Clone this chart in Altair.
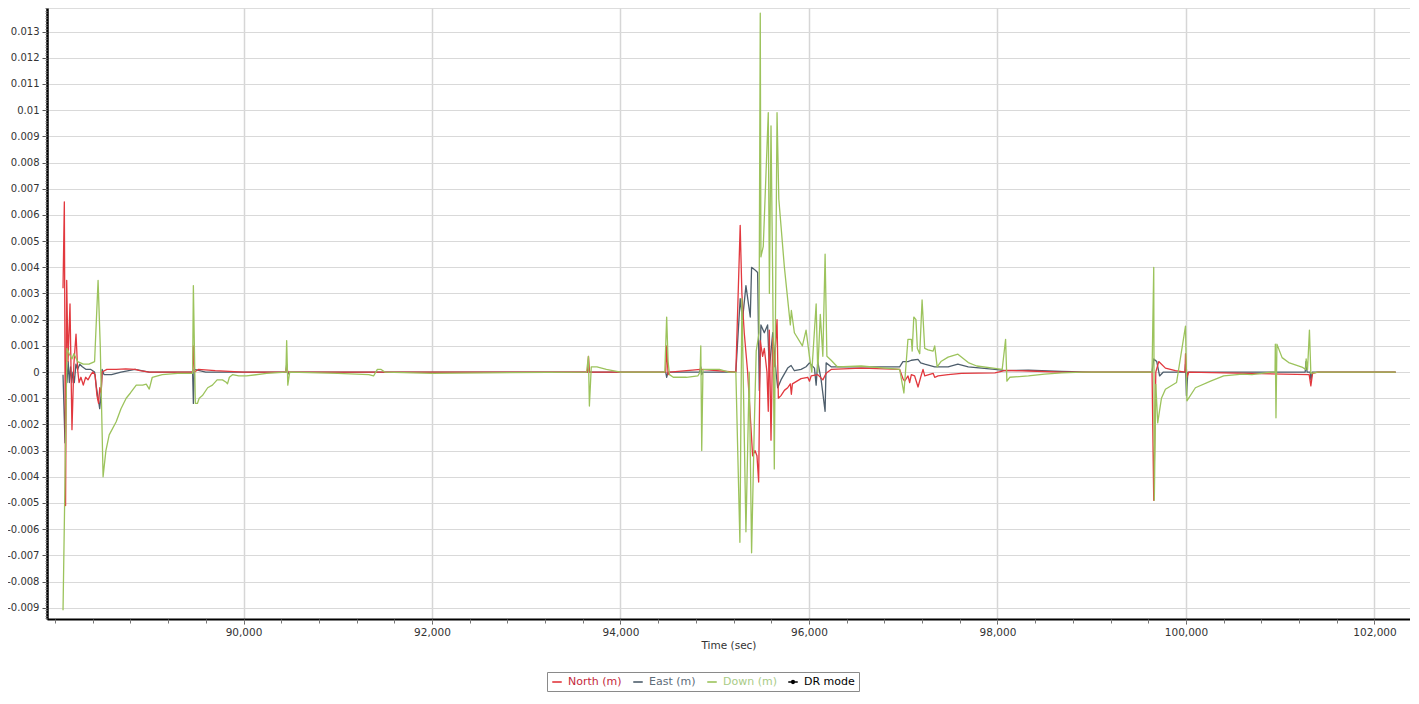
import altair as alt
import pandas as pd

# ---------------- data ----------------
north_t = [88085, 88099, 88112, 88124, 88138, 88159, 88180, 88200, 88223, 88240, 88255, 88275,
           88300, 88325, 88350, 88380, 88400, 88425, 88445, 88462, 88475, 88490, 88500, 88550,
           88650, 88750, 88850, 88900, 89000, 89200, 89460, 89468, 89480, 89520, 89700, 90000,
           90450, 90458, 90470, 91500, 93650, 93660, 93672, 94480, 94490, 94505, 94520, 94852,
           95224, 95270, 95288, 95313, 95349, 95384, 95402, 95427, 95448, 95466, 95483, 95508,
           95526, 95554, 95568, 95579, 95597, 95615, 95632, 95661, 95675, 95703, 95739, 95774,
           95802, 95813, 95824, 95916, 95987, 96005, 96023, 96093, 96147, 96182, 96235, 96554,
           96962, 96997, 97015, 97051, 97068, 97086, 97121, 97157, 97185, 97210, 97228, 97317,
           97334, 97370, 97476, 97618, 97973, 98086, 98328, 98682, 99640, 99658, 99680, 99711,
           99782, 99888, 99990, 99995, 100010, 100030, 101307, 101325, 101343, 101400, 102225]
north_v = [0.0032, 0.0065, -0.0051, 0.0035, 0.0004, 0.0026, -0.0022, 0.0003, 0.00145, 0.0001, -0.0004, -0.0002,
           -0.0005, -0.0002, -0.0003, -0.0001, 0.0, -0.0001, -0.0009, -0.0012, -0.0006, -0.0008, 0.0, 0.0001,
           0.0001, 0.00012, 0.0001, 0.00005, 0.0, 0.0, 0.0, 0.0010, 0.0, 0.0001, 0.00005, 0.0,
           0.0, 0.0002, 0.0, 0.0, 0.0, 0.0006, 0.0, 0.0, 0.0010, -0.0001, 0.0, 0.0001,
           0.0, 0.0056, 0.0030, 0.0015, 0.0, -0.0021, -0.0032, -0.0030, -0.0032, -0.0042, 0.0012, 0.0006,
           0.0009, 0.0, -0.0015, 0.0016, -0.0026, 0.0013, 0.0002, 0.0020, -0.0010, -0.0009, -0.0007, -0.0006,
           -0.00045, -0.00085, -0.00045, -0.00025, -0.0002, -0.00035, -0.00015, -0.0001, -0.0003, -0.00005, 0.0001, 0.00015,
           0.0001, -0.00025, -0.00035, -0.00015, -0.0004, -0.0001, -0.00015, -0.00057, -0.0002, 0.0001, -0.00015, -0.00005,
           -0.0002, -0.00015, -0.0001, -0.00005, -0.00003, 0.00006, 0.00004, 0.0, 0.0, -0.0049, 0.0, 0.0004,
           0.00015, 0.00005, 0.0, 0.0007, -0.0002, 0.0, -0.0001, -0.00053, -0.00005, 0.0, 0.0]

east_t = [88085, 88106, 88117, 88127, 88140, 88152, 88165, 88178, 88190, 88205, 88222, 88240,
          88262, 88290, 88330, 88380, 88420, 88440, 88462, 88474, 88488, 88500, 88520, 88600,
          88700, 88850, 89000, 89200, 89460, 89468, 89478, 89600, 90000, 90450, 90458, 90470,
          90480, 91000, 92000, 93000, 93650, 93660, 93672, 94480, 94490, 94505, 94840, 94852,
          94862, 94875, 95224, 95270, 95295, 95331, 95377, 95391, 95427, 95455, 95473, 95490,
          95526, 95561, 95579, 95615, 95650, 95668, 95703, 95774, 95810, 95845, 95916, 95969,
          96005, 96058, 96076, 96093, 96129, 96171, 96182, 96235, 96500, 96962, 96997, 97051,
          97086, 97157, 97185, 97228, 97334, 97476, 97580, 97690, 97973, 98086, 98328, 98682,
          99000, 99640, 99658, 99690, 99720, 99760, 99990, 99995, 100005, 100020, 101265, 101273,
          101285, 101318, 101325, 101340, 102225]
east_v = [-0.0001, -0.0027, 0.0001, -0.0004, 0.0004, -0.0004, 0.0002, -0.0004, 0.0, -0.0004, 0.0003, 0.0001,
          0.0003, 0.0002, 0.0001, 0.0001, 0.0, -0.0006, -0.0011, -0.0014, -0.0009, 0.0001, -0.0001, -0.0001,
          0.0, 0.0001, 0.0, 0.0, 0.0, -0.0012, 0.0001, 0.0, 0.0, 0.0, 0.0003, -0.0001,
          0.0, 0.0, 0.0, 0.0, 0.0, 0.0001, 0.0, 0.0, -0.0002, 0.0, 0.0, 0.0002,
          -0.0001, 0.0, 0.0, 0.0028, 0.0020, 0.0033, 0.0021, 0.0040, 0.0039, 0.0038, -0.0007, 0.0018,
          0.0015, 0.0018, 0.0001, 0.0015, 0.0, -0.0006, -0.0003, 0.00015, 0.00025, 0.00005, 0.0001, 0.0002,
          0.00035, 0.00015, -0.0005, 0.0004, -0.0003, -0.0015, 0.00035, 0.0002, 0.0002, 0.0002, 0.0004, 0.0004,
          0.00045, 0.00048, 0.00035, 0.0003, 0.0002, 0.0002, 0.0003, 0.0002, 0.0001, 0.00005, 0.00007, 0.00002,
          0.0, 0.0, 0.0005, 0.0004, -0.00015, 0.0, 0.0, 0.0003, -0.0009, 0.0, 0.0, 0.0004,
          0.0, 0.0, -0.0003, 0.0, 0.0]

down_t = [88085, 88127, 88150, 88180, 88200, 88240, 88300, 88360, 88420, 88457, 88480, 88510,
          88540, 88575, 88649, 88700, 88755, 88800, 88862, 88930, 88968, 89000, 89032, 89138,
          89300, 89460, 89468, 89489, 89511, 89530, 89564, 89620, 89670, 89720, 89777, 89820,
          89830, 89850, 89883, 89950, 90032, 90245, 90450, 90458, 90470, 90490, 91000, 91330,
          91380, 91420, 91460, 91500, 92000, 93640, 93660, 93670, 93690, 93750, 93850, 94000,
          94470, 94490, 94505, 94520, 94560, 94700, 94820, 94845, 94852, 94862, 94875, 94950,
          95050, 95150, 95224, 95267, 95288, 95331, 95366, 95391, 95420, 95440, 95470, 95483,
          95490, 95515, 95568, 95580, 95597, 95615, 95632, 95661, 95680, 95739, 95802, 95813,
          95845, 95930, 95969, 96005, 96030, 96076, 96093, 96120, 96147, 96171, 96190, 96235,
          96300, 96554, 96962, 97007, 97050, 97086, 97095, 97112, 97135, 97150, 97175, 97200,
          97228, 97264, 97317, 97334, 97360, 97400, 97476, 97580, 97690, 97780, 97973, 98050,
          98086, 98100, 98130, 98328, 98500, 98682, 98900, 99640, 99658, 99664, 99680, 99700,
          99740, 99782, 99900, 99995, 100010, 100100, 100261, 100400, 100600, 100700, 100900, 100945,
          100948, 100955, 100965, 101020, 101090, 101230, 101270, 101275, 101290, 101310, 101325, 101400,
          102225]
down_v = [-0.0091, 0.0009, 0.0007, 0.0005, 0.0007, 0.0004, 0.0003, 0.0003, 0.0004, 0.0035, 0.0010, -0.0040,
          -0.0030, -0.0024, -0.0019, -0.0014, -0.0010, -0.0008, -0.0005, -0.0005, -0.00046, -0.00065, -0.0002, -0.0001,
          -0.00005, -0.00005, 0.0033, -0.0012, -0.0012, -0.0010, -0.0009, -0.0006, -0.0005, -0.0003, -0.0003, -0.0004,
          -0.00045, -0.0002, -0.0001, -0.00015, -0.00015, -0.00005, 0.0, 0.0012, -0.0005, 0.0, -0.00005, -0.0001,
          -0.00015, 0.0001, 0.0001, 0.0, -0.00005, 0.0, 0.0006, -0.0013, 0.0002, 0.0002, 0.0001, 0.0,
          0.0, 0.0021, 0.0004, -0.0001, -0.0002, -0.0002, -0.00015, 0.0, 0.0010, -0.0030, 0.0001, 0.0001,
          0.0001, 0.0, 0.0, -0.0065, 0.0028, -0.0061, 0.0, -0.0069, -0.0020, 0.0008, 0.0015, 0.0137,
          0.0044, 0.0048, 0.0099, 0.0030, 0.0094, 0.0035, -0.0037, 0.0099, 0.0066, 0.0040, 0.0018, 0.00235,
          0.0015, 0.0010, 0.0016, 0.0006, 0.0, 0.0026, 0.0, 0.0022, 0.0006, 0.0045, 0.0006, 0.00045,
          0.0002, 0.00023, 0.0001, -0.0008, 0.00125, 0.00125, 0.0008, 0.0021, 0.0020, 0.0009, 0.0007, 0.00275,
          0.0009, 0.00085, 0.0008, 0.0010, 0.0002, 0.0004, 0.00057, 0.00068, 0.00036, 0.00023, 0.00014, 0.0001,
          0.00125, -0.00035, -0.0002, -0.00015, -0.00008, -0.00003, 0.0, 0.0, 0.0040, -0.0049, -0.00047, -0.00194,
          -0.0010, -0.00066, -0.0004, 0.00175, -0.0011, -0.0006, -0.00035, -0.00015, -0.00008, -0.0001, 0.0, 0.0,
          0.00106, -0.00175, 0.00106, 0.00055, 0.00036, 0.00019, 0.0001, 0.0005, 0.0001, 0.0016, -0.00005, 0.0,
          0.0]

series_names = ["North (m)", "East (m)", "Down (m)", "DR mode"]
series_colors = ["#e2383e", "#4e5e6c", "#9cc35c", "#000000"]
legend_label_colors = ["#c4283a", "#5d6c78", "#a9cb86", "#000000"]

x_major = [90000, 92000, 94000, 96000, 98000, 100000, 102000]
y_major = [-0.009, -0.008, -0.007, -0.006, -0.005, -0.004, -0.003, -0.002, -0.001, 0.0,
           0.001, 0.002, 0.003, 0.004, 0.005, 0.006, 0.007, 0.008, 0.009, 0.01,
           0.011, 0.012, 0.013]
x_minor = list(range(88000, 102401, 400))
y_minor = [round(-0.0094 + i * 0.0001, 4) for i in range(234)]

X_DOMAIN = [87915, 102377]
Y_DOMAIN = [-0.00943, 0.0139]

rows = []
for name, ts, vs in [("North (m)", north_t, north_v),
                     ("East (m)", east_t, east_v),
                     ("Down (m)", down_t, down_v)]:
    for t, v in zip(ts, vs):
        rows.append({"t": t, "v": v, "series": name})
df = pd.DataFrame(rows)

FONT = "DejaVu Sans"

xs = alt.Scale(domain=X_DOMAIN, nice=False, zero=False)
ys = alt.Scale(domain=Y_DOMAIN, nice=False, zero=False)
cs = alt.Scale(domain=series_names, range=series_colors)

label_color_expr = " : ".join(
    f"datum.label == '{n}' ? '{c}'" for n, c in zip(series_names[:-1], legend_label_colors[:-1])
) + f" : '{legend_label_colors[-1]}'"

dr_path = "M-1,0L1,0M-0.28,0a0.28,0.28 0 1,0 0.56,0a0.28,0.28 0 1,0 -0.56,0"
symbol_expr = f"datum.label == 'DR mode' ? '{dr_path}' : 'stroke'"

legend = alt.Legend(
    title=None, orient="none", legendX=500, legendY=664, direction="horizontal",
    strokeColor="#8a8a8a", fillColor="white", padding=4, cornerRadius=0,
    labelFont=FONT, labelFontSize=11, labelColor={"expr": label_color_expr},
    symbolType={"expr": symbol_expr}, symbolSize=90, symbolStrokeWidth=1.6,
    labelOffset=5, columnPadding=8, labelLimit=200,
)

x_axis = alt.Axis(
    values=x_major, format=",d", title="Time (sec)", grid=True, gridColor="#d6d6d6", gridWidth=1.5,
    domain=True, domainColor="#000000", domainWidth=2, tickSize=5, tickColor="#555555",
    labelFont=FONT, labelFontSize=10.5, labelColor="#333333", labelPadding=3,
    titleFont=FONT, titleFontSize=10.5, titleFontWeight="normal", titleColor="#333333", titlePadding=3,
    labelFlush=False,
)
y_axis = alt.Axis(
    values=y_major, labelExpr="'' + round(datum.value * 1000) / 1000", title=None,
    grid=True, gridColor="#d9d9d9", gridWidth=1.2,
    domain=True, domainColor="#000000", domainWidth=2.5, tickSize=5, tickColor="#555555",
    labelFont=FONT, labelFontSize=10, labelColor="#333333", labelPadding=3,
)

base = alt.Chart(df)


def series_layer(name, width):
    return base.transform_filter(alt.datum.series == name).mark_line(
        strokeWidth=width, clip=True, strokeJoin="round"
    ).encode(
        x=alt.X("t:Q", scale=xs, axis=x_axis),
        y=alt.Y("v:Q", scale=ys, axis=y_axis),
        color=alt.Color("series:N", scale=cs, legend=legend),
    )


main = alt.layer(
    series_layer("East (m)", 1.3),
    series_layer("North (m)", 1.3),
    series_layer("Down (m)", 1.3),
)

minor = base.mark_point(opacity=0).encode(
    x=alt.X("t:Q", scale=xs, axis=alt.Axis(values=x_minor, labels=False, grid=False, domain=False,
                                            tickSize=4, tickColor="#777777", orient="bottom", title=None)),
    y=alt.Y("v:Q", scale=ys, axis=alt.Axis(values=y_minor, labels=False, grid=False, domain=False,
                                            tickSize=2, tickColor="#777777", orient="left", title=None)),
)

chart = alt.layer(main, minor).resolve_scale(x="independent", y="independent").properties(
    width=1363, height=611,
    autosize=alt.AutoSizeParams(type="none"),
    padding={"left": 39, "top": 0, "right": 0, "bottom": 75},
).configure_view(stroke="#7a7a7a", strokeWidth=1.5).configure(background="white")

chart.save("out.html", embed_options={"renderer": "svg", "actions": False})
